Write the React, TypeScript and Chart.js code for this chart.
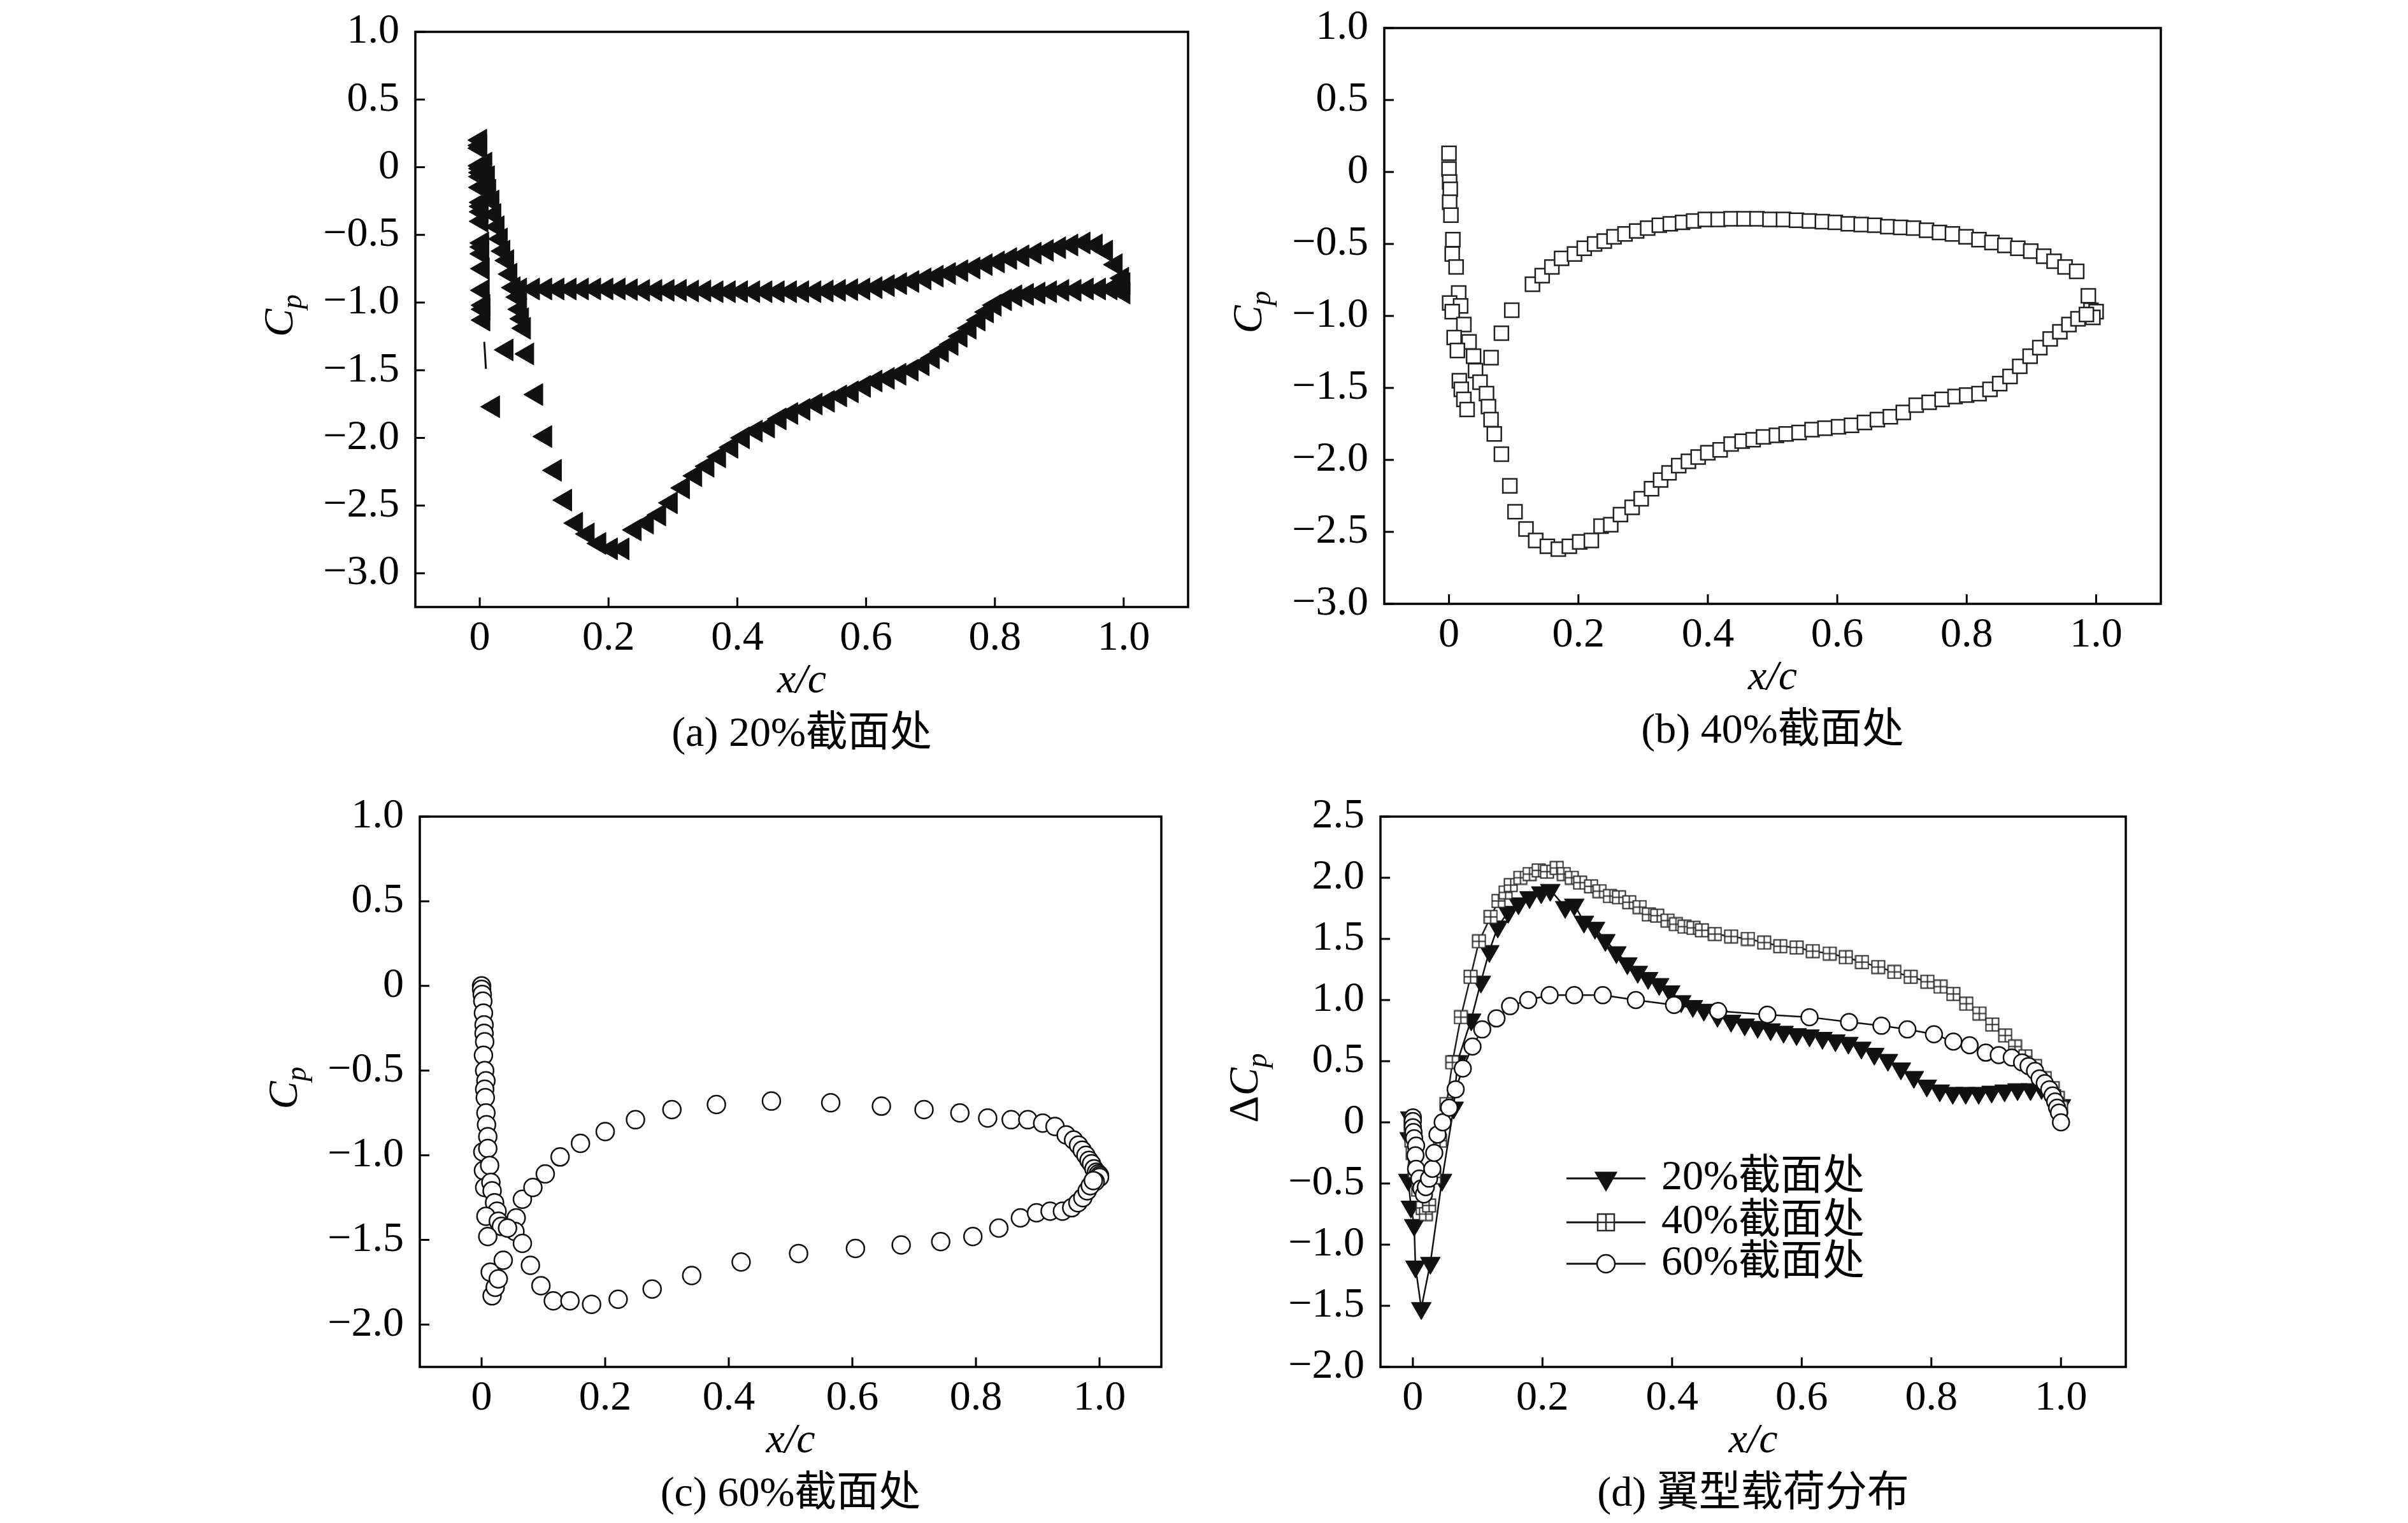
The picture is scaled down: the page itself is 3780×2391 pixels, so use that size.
import React, { useEffect, useRef } from 'react';
import { Chart, registerables } from 'chart.js';

Chart.register(...registerables);

type Pt = [number, number];

const LATIN = '"Liberation Serif"';
const MIXED = '"Liberation Serif", "Noto Sans CJK SC"';
const FS = 66;
const TICK = 15;

// ---------- tick values / labels ----------
const xTicks = [0, 0.2, 0.4, 0.6, 0.8, 1.0];
const xTickLabels = ['0', '0.2', '0.4', '0.6', '0.8', '1.0'];
const yTicksAB = [-3.0, -2.5, -2.0, -1.5, -1.0, -0.5, 0, 0.5, 1.0];
const yTickLabelsAB = ['\u22123.0', '\u22122.5', '\u22122.0', '\u22121.5', '\u22121.0', '\u22120.5', '0', '0.5', '1.0'];
const yTicksC = [-2.0, -1.5, -1.0, -0.5, 0, 0.5, 1.0];
const yTickLabelsC = ['\u22122.0', '\u22121.5', '\u22121.0', '\u22120.5', '0', '0.5', '1.0'];
const yTicksD = [-2.0, -1.5, -1.0, -0.5, 0, 0.5, 1.0, 1.5, 2.0, 2.5];
const yTickLabelsD = ['\u22122.0', '\u22121.5', '\u22121.0', '\u22120.5', '0', '0.5', '1.0', '1.5', '2.0', '2.5'];

const captions = ['(a) 20%截面处', '(b) 40%截面处', '(c) 60%截面处', '(d) 翼型载荷分布'];
const seriesLabels = ['20%截面处', '40%截面处', '60%截面处'];

// ---------- (a) 20% section Cp ----------
const cp20LeLeft: Pt[] = [
  [0.001, 0.20], [0.001, 0.16], [0.001, 0.14], [0.001, 0.01], [0.002, -0.01], [0.002, -0.04], [0.002, -0.07],
  [0.002, -0.15], [0.003, -0.26], [0.003, -0.29], [0.003, -0.33], [0.003, -0.40], [0.004, -0.56], [0.004, -0.59],
  [0.004, -0.64], [0.005, -0.75], [0.005, -0.91], [0.006, -1.02], [0.006, -1.05], [0.006, -1.13],
];
const cp20LeRight: Pt[] = [
  [0.009, 0.03], [0.013, -0.07], [0.015, -0.17], [0.020, -0.25], [0.023, -0.35], [0.028, -0.44], [0.033, -0.53],
  [0.037, -0.62], [0.043, -0.69], [0.048, -0.79], [0.053, -0.89], [0.060, -0.96], [0.063, -1.05], [0.066, -1.12],
  [0.069, -1.19],
];
const cp20Scatter: Pt[] = [
  [0.042, -1.35], [0.074, -1.38], [0.021, -1.77], [0.088, -1.68], [0.102, -1.99], [0.117, -2.24], [0.133, -2.46],
  [0.150, -2.63], [0.168, -2.71], [0.186, -2.78], [0.204, -2.82], [0.222, -2.82],
];
const cp20Lower: Pt[] = [
  [0.241, -2.68], [0.260, -2.63], [0.279, -2.57], [0.297, -2.48], [0.316, -2.37], [0.335, -2.28], [0.354, -2.21],
  [0.372, -2.14], [0.391, -2.07], [0.409, -2.00], [0.429, -1.95], [0.448, -1.92], [0.466, -1.86], [0.484, -1.82],
  [0.503, -1.79], [0.522, -1.75], [0.541, -1.73], [0.560, -1.69], [0.578, -1.66], [0.597, -1.62], [0.615, -1.58],
  [0.634, -1.56], [0.652, -1.53], [0.671, -1.50], [0.688, -1.46], [0.704, -1.41], [0.718, -1.36], [0.733, -1.31],
  [0.747, -1.25], [0.761, -1.19], [0.775, -1.13], [0.788, -1.07], [0.800, -1.02], [0.816, -0.98], [0.832, -0.95],
  [0.850, -0.94], [0.868, -0.93], [0.886, -0.92], [0.905, -0.91], [0.924, -0.91], [0.943, -0.90], [0.962, -0.90],
  [0.980, -0.90], [0.995, -0.89], [1.000, -0.86], [1.000, -0.93],
];
const cp20Upper: Pt[] = [
  [0.063, -0.90], [0.083, -0.90], [0.102, -0.90], [0.121, -0.90], [0.140, -0.90], [0.159, -0.90], [0.178, -0.90],
  [0.197, -0.90], [0.216, -0.90], [0.235, -0.905], [0.254, -0.91], [0.273, -0.91], [0.292, -0.91], [0.311, -0.91],
  [0.330, -0.915], [0.349, -0.915], [0.368, -0.92], [0.387, -0.92], [0.406, -0.92], [0.425, -0.92], [0.444, -0.92],
  [0.463, -0.92], [0.482, -0.92], [0.501, -0.92], [0.520, -0.92], [0.539, -0.915], [0.558, -0.91], [0.577, -0.905],
  [0.596, -0.90], [0.615, -0.89], [0.634, -0.875], [0.653, -0.86], [0.672, -0.845], [0.691, -0.825], [0.710, -0.805],
  [0.729, -0.785], [0.748, -0.765], [0.767, -0.745], [0.786, -0.72], [0.805, -0.70], [0.824, -0.675], [0.843, -0.655],
  [0.862, -0.635], [0.881, -0.615], [0.900, -0.595], [0.919, -0.575], [0.938, -0.56], [0.957, -0.575], [0.973, -0.62],
  [0.988, -0.72], [0.998, -0.82],
];
const cp20Stroke: Pt[] = [[0.007, -1.29], [0.0096, -1.49]];

// ---------- (b) 40% section Cp ----------
const cp40Le: Pt[] = [
  [0.000, 0.13], [0.000, 0.02], [0.001, -0.07], [0.002, -0.12], [0.001, -0.21], [0.003, -0.30], [0.006, -0.47],
  [0.005, -0.57], [0.011, -0.66], [0.015, -0.84], [0.001, -0.91], [0.018, -0.93], [0.005, -0.97], [0.023, -1.06],
  [0.008, -1.15], [0.031, -1.18], [0.013, -1.24], [0.038, -1.28], [0.065, -1.29], [0.041, -1.38], [0.016, -1.45],
  [0.048, -1.46], [0.019, -1.51], [0.023, -1.58], [0.058, -1.54], [0.028, -1.65], [0.061, -1.63], [0.065, -1.72],
  [0.070, -1.82], [0.081, -1.96], [0.094, -2.18],
];
const cp40Lower: Pt[] = [
  [0.102, -2.36], [0.119, -2.48], [0.134, -2.56], [0.152, -2.60], [0.169, -2.62], [0.186, -2.60], [0.202, -2.57],
  [0.220, -2.56], [0.235, -2.46], [0.250, -2.45], [0.265, -2.38], [0.283, -2.33], [0.297, -2.27], [0.313, -2.20],
  [0.327, -2.14], [0.340, -2.09], [0.355, -2.04], [0.370, -2.01], [0.385, -1.98], [0.400, -1.95], [0.419, -1.93],
  [0.436, -1.89], [0.453, -1.87], [0.470, -1.86], [0.486, -1.84], [0.506, -1.83], [0.521, -1.82], [0.541, -1.81],
  [0.561, -1.79], [0.581, -1.78], [0.602, -1.77], [0.622, -1.76], [0.642, -1.74], [0.662, -1.72], [0.682, -1.70],
  [0.702, -1.67], [0.722, -1.62], [0.742, -1.60], [0.762, -1.58], [0.782, -1.56], [0.800, -1.55], [0.819, -1.54],
  [0.836, -1.51], [0.851, -1.47], [0.867, -1.42], [0.882, -1.35], [0.898, -1.28], [0.913, -1.22], [0.929, -1.16],
  [0.944, -1.11], [0.958, -1.06], [0.972, -1.02], [0.985, -0.99],
];
const cp40Upper: Pt[] = [
  [0.081, -1.12], [0.097, -0.96], [0.129, -0.78], [0.144, -0.72], [0.159, -0.66], [0.174, -0.60], [0.194, -0.57],
  [0.209, -0.53], [0.225, -0.50], [0.240, -0.48], [0.255, -0.45], [0.272, -0.43], [0.290, -0.41], [0.307, -0.39],
  [0.325, -0.37], [0.342, -0.36], [0.361, -0.35], [0.378, -0.34], [0.396, -0.33], [0.416, -0.33], [0.436, -0.325],
  [0.456, -0.325], [0.476, -0.325], [0.496, -0.33], [0.517, -0.33], [0.537, -0.335], [0.557, -0.34], [0.577, -0.345],
  [0.597, -0.35], [0.617, -0.36], [0.637, -0.365], [0.658, -0.37], [0.678, -0.38], [0.698, -0.385], [0.718, -0.39],
  [0.738, -0.405], [0.758, -0.42], [0.778, -0.43], [0.799, -0.45], [0.819, -0.47], [0.839, -0.49], [0.859, -0.51],
  [0.879, -0.53], [0.899, -0.55], [0.919, -0.585], [0.935, -0.62], [0.952, -0.66], [0.970, -0.69], [0.988, -0.86],
  [0.992, -0.96], [1.000, -0.97], [0.995, -1.01],
];

// ---------- (c) 60% section Cp ----------
const cp60Le: Pt[] = [
  [0.000, 0.00], [0.000, -0.02], [0.001, -0.05], [0.002, -0.09], [0.003, -0.16], [0.004, -0.23], [0.004, -0.28],
  [0.005, -0.33], [0.003, -0.41], [0.005, -0.50], [0.007, -0.56], [0.005, -0.61], [0.006, -0.66], [0.007, -0.75],
  [0.008, -0.82], [0.010, -0.89], [0.002, -0.98], [0.010, -0.96], [0.003, -1.09], [0.013, -1.06], [0.005, -1.19],
  [0.015, -1.16], [0.017, -1.21], [0.021, -1.28], [0.025, -1.33], [0.007, -1.36], [0.027, -1.39], [0.032, -1.42],
  [0.010, -1.48], [0.042, -1.43], [0.014, -1.69], [0.017, -1.83], [0.022, -1.78], [0.027, -1.73], [0.035, -1.62],
];
const cp60Lower: Pt[] = [
  [0.054, -1.45], [0.066, -1.52], [0.079, -1.65], [0.096, -1.77], [0.116, -1.86], [0.143, -1.86], [0.178, -1.88],
  [0.221, -1.85], [0.276, -1.79], [0.340, -1.71], [0.420, -1.63], [0.513, -1.58], [0.605, -1.55], [0.679, -1.53],
  [0.743, -1.51], [0.795, -1.48], [0.837, -1.43], [0.872, -1.37], [0.898, -1.34], [0.920, -1.33], [0.940, -1.33],
  [0.955, -1.31], [0.965, -1.28], [0.973, -1.25], [0.980, -1.21], [0.985, -1.18], [0.990, -1.15],
];
const cp60Upper: Pt[] = [
  [0.056, -1.37], [0.066, -1.26], [0.083, -1.19], [0.103, -1.11], [0.127, -1.01], [0.160, -0.93], [0.200, -0.86],
  [0.249, -0.79], [0.308, -0.73], [0.380, -0.70], [0.469, -0.68], [0.565, -0.69], [0.647, -0.71], [0.716, -0.73],
  [0.774, -0.75], [0.819, -0.78], [0.857, -0.79], [0.884, -0.79], [0.908, -0.81], [0.928, -0.83], [0.946, -0.88],
  [0.958, -0.91], [0.966, -0.94], [0.972, -0.97], [0.978, -1.00], [0.983, -1.03], [0.987, -1.05], [0.991, -1.08],
  [0.995, -1.10], [0.998, -1.11], [1.000, -1.12], [1.000, -1.13], [0.993, -1.155],
];

// ---------- (d) load distribution dCp ----------
const dcp20: Pt[] = [
  [-0.004, 0.04], [-0.005, -0.13], [-0.007, -0.47], [-0.003, -0.69], [0.002, -0.84], [0.004, -1.18], [0.013, -1.52],
  [0.027, -1.15], [0.045, -0.47], [0.063, 0.12], [0.069, 0.50], [0.090, 0.84], [0.105, 1.15], [0.118, 1.40],
  [0.131, 1.60], [0.147, 1.72], [0.163, 1.79], [0.180, 1.84], [0.198, 1.88], [0.212, 1.90], [0.235, 1.76],
  [0.249, 1.78], [0.264, 1.64], [0.281, 1.59], [0.297, 1.49], [0.314, 1.39], [0.331, 1.30], [0.347, 1.23],
  [0.363, 1.18], [0.380, 1.13], [0.397, 1.07], [0.414, 0.99], [0.432, 0.95], [0.449, 0.92], [0.470, 0.87],
  [0.491, 0.83], [0.512, 0.80], [0.532, 0.78], [0.552, 0.76], [0.572, 0.74], [0.592, 0.72], [0.612, 0.71],
  [0.632, 0.69], [0.652, 0.67], [0.672, 0.65], [0.692, 0.61], [0.712, 0.56], [0.733, 0.51], [0.753, 0.44],
  [0.773, 0.37], [0.793, 0.30], [0.813, 0.26], [0.833, 0.24], [0.853, 0.24], [0.873, 0.24], [0.893, 0.25],
  [0.913, 0.26], [0.933, 0.27], [0.953, 0.27], [0.970, 0.28], [0.985, 0.22], [1.000, 0.14],
];
const dcp40: Pt[] = [
  [-0.003, 0.03], [-0.003, -0.05], [-0.002, -0.15], [0.000, -0.25], [0.003, -0.40], [0.008, -0.55], [0.015, -0.70],
  [0.020, -0.75], [0.025, -0.68], [0.033, -0.45], [0.042, -0.15], [0.052, 0.15], [0.061, 0.49], [0.074, 0.86],
  [0.089, 1.19], [0.102, 1.48], [0.120, 1.68], [0.132, 1.81], [0.143, 1.88], [0.151, 1.94], [0.166, 2.00],
  [0.180, 2.03], [0.194, 2.06], [0.207, 2.05], [0.222, 2.08], [0.233, 2.03], [0.245, 2.00], [0.258, 1.96],
  [0.275, 1.93], [0.288, 1.89], [0.304, 1.85], [0.318, 1.84], [0.334, 1.80], [0.350, 1.76], [0.364, 1.70],
  [0.377, 1.69], [0.393, 1.65], [0.406, 1.62], [0.419, 1.60], [0.433, 1.59], [0.446, 1.57], [0.466, 1.54],
  [0.491, 1.52], [0.517, 1.50], [0.542, 1.47], [0.567, 1.44], [0.592, 1.43], [0.617, 1.40], [0.643, 1.38],
  [0.668, 1.35], [0.693, 1.31], [0.718, 1.27], [0.743, 1.23], [0.768, 1.19], [0.794, 1.15], [0.814, 1.11],
  [0.834, 1.05], [0.854, 0.97], [0.874, 0.89], [0.894, 0.80], [0.914, 0.71], [0.929, 0.62], [0.945, 0.54],
  [0.960, 0.46], [0.975, 0.36], [0.987, 0.28], [0.995, 0.20], [1.000, 0.12],
];
const dcp60: Pt[] = [
  [0.000, 0.04], [0.000, 0.01], [0.000, -0.04], [0.001, -0.08], [0.002, -0.13], [0.005, -0.19], [0.004, -0.27],
  [0.005, -0.38], [0.010, -0.46], [0.013, -0.54], [0.017, -0.59], [0.020, -0.53], [0.025, -0.46], [0.030, -0.38],
  [0.033, -0.25], [0.038, -0.10], [0.046, 0.00], [0.056, 0.12], [0.066, 0.27], [0.077, 0.44], [0.092, 0.62],
  [0.107, 0.76], [0.129, 0.85], [0.150, 0.95], [0.178, 1.00], [0.211, 1.04], [0.249, 1.04], [0.293, 1.04],
  [0.344, 1.00], [0.403, 0.96], [0.471, 0.91], [0.547, 0.88], [0.612, 0.86], [0.673, 0.82], [0.723, 0.79],
  [0.763, 0.76], [0.804, 0.72], [0.834, 0.66], [0.859, 0.63], [0.884, 0.57], [0.904, 0.55], [0.924, 0.53],
  [0.940, 0.49], [0.950, 0.46], [0.960, 0.42], [0.967, 0.36], [0.975, 0.32], [0.982, 0.27], [0.987, 0.22],
  [0.991, 0.17], [0.994, 0.12], [0.997, 0.08], [1.000, 0.00],
];

// ---------- helpers ----------
const toXY = (pts: Pt[]) => pts.map(([x, y]) => ({ x, y }));

function makeBoxCross(side: number, lw: number): HTMLCanvasElement {
  const c = document.createElement('canvas');
  const s = Math.ceil(side + lw + 1);
  c.width = s;
  c.height = s;
  const g = c.getContext('2d')!;
  const o = (s - side) / 2;
  g.fillStyle = '#fff';
  g.fillRect(o, o, side, side);
  g.strokeStyle = '#2a2a2a';
  g.lineWidth = lw;
  g.strokeRect(o, o, side, side);
  g.beginPath();
  g.moveTo(s / 2, o);
  g.lineTo(s / 2, o + side);
  g.moveTo(o, s / 2);
  g.lineTo(o + side, s / 2);
  g.stroke();
  return c;
}

interface PanelCfg {
  left: number; top: number; width: number; height: number;
  area: { l: number; t: number; r: number; b: number };
  xMin: number; xMax: number; yMin: number; yMax: number;
  yTicks: number[]; yLabels: string[];
  delta: boolean;
  caption: string;
  datasets: any[];
  legend?: { rows: number[]; x1: number; x2: number; tx: number };
}

function drawYTitle(ctx: CanvasRenderingContext2D, x: number, y: number, delta: boolean) {
  ctx.save();
  ctx.translate(x, y);
  ctx.rotate(-Math.PI / 2);
  ctx.textAlign = 'left';
  ctx.textBaseline = 'alphabetic';
  const parts: { t: string; f: string; dy: number }[] = [];
  if (delta) parts.push({ t: '\u0394', f: `${FS}px ${LATIN}`, dy: 0 });
  parts.push({ t: 'C', f: `italic ${FS}px ${LATIN}`, dy: 0 });
  parts.push({ t: 'p', f: `italic 46px ${LATIN}`, dy: 14 });
  const widths = parts.map((p) => { ctx.font = p.f; return ctx.measureText(p.t).width; });
  const total = widths.reduce((s, w) => s + w, 0);
  let cur = -total / 2;
  parts.forEach((p, i) => {
    ctx.font = p.f;
    ctx.fillText(p.t, cur, 22 + p.dy);
    cur += widths[i];
  });
  ctx.restore();
}

function drawTri(ctx: CanvasRenderingContext2D, x: number, y: number, r: number) {
  ctx.beginPath();
  ctx.moveTo(x, y + r);
  ctx.lineTo(x - r * 0.866, y - r / 2);
  ctx.lineTo(x + r * 0.866, y - r / 2);
  ctx.closePath();
  ctx.fillStyle = '#111';
  ctx.fill();
}

function makeDecor(cfg: PanelCfg, legendBox: HTMLCanvasElement | null) {
  return {
    id: 'decor',
    afterDraw(chart: any) {
      const { ctx, chartArea: a } = chart;
      const xs = chart.scales.x;
      const ys = chart.scales.y;
      ctx.save();
      ctx.strokeStyle = '#000';
      ctx.lineWidth = 3.5;
      ctx.strokeRect(a.left, a.top, a.right - a.left, a.bottom - a.top);
      ctx.lineWidth = 3;
      ctx.beginPath();
      xTicks.forEach((v) => {
        const p = xs.getPixelForValue(v);
        ctx.moveTo(p, a.bottom);
        ctx.lineTo(p, a.bottom - TICK);
      });
      cfg.yTicks.forEach((v) => {
        const p = ys.getPixelForValue(v);
        ctx.moveTo(a.left, p);
        ctx.lineTo(a.left + TICK, p);
      });
      ctx.stroke();

      const cx = (a.left + a.right) / 2;
      ctx.fillStyle = '#000';
      ctx.textAlign = 'center';
      ctx.textBaseline = 'middle';
      ctx.font = `italic ${FS}px ${LATIN}`;
      ctx.fillText('x/c', cx, a.bottom + 117);
      ctx.font = `${FS}px ${MIXED}`;
      ctx.fillText(cfg.caption, cx, a.bottom + 201);
      drawYTitle(ctx, a.left - 215, (a.top + a.bottom) / 2 - 6, cfg.delta);

      if (cfg.legend && legendBox) {
        const L = cfg.legend;
        const mx = (L.x1 + L.x2) / 2;
        L.rows.forEach((ry, i) => {
          ctx.strokeStyle = '#111';
          ctx.lineWidth = 3;
          ctx.beginPath();
          ctx.moveTo(L.x1, ry);
          ctx.lineTo(L.x2, ry);
          ctx.stroke();
          if (i === 0) drawTri(ctx, mx, ry, 21);
          if (i === 1) ctx.drawImage(legendBox, mx - legendBox.width / 2, ry - legendBox.height / 2);
          if (i === 2) {
            ctx.beginPath();
            ctx.arc(mx, ry, 14, 0, Math.PI * 2);
            ctx.fillStyle = '#fff';
            ctx.fill();
            ctx.lineWidth = 2.5;
            ctx.strokeStyle = '#111';
            ctx.stroke();
          }
          ctx.fillStyle = '#000';
          ctx.textAlign = 'left';
          ctx.textBaseline = 'middle';
          ctx.font = `${FS}px ${MIXED}`;
          ctx.fillText(seriesLabels[i], L.tx, ry);
        });
      }
      ctx.restore();
    },
  };
}

function buildPanels(): { cfg: PanelCfg; legendBox: HTMLCanvasElement | null }[] {
  const tri = (pts: Pt[], label: string) => ({
    label, data: toXY(pts), showLine: false,
    pointStyle: 'triangle', pointRotation: -90, pointRadius: 20,
    pointBackgroundColor: '#111', pointBorderColor: '#111', pointBorderWidth: 1,
    backgroundColor: '#111', borderColor: '#111',
  });
  const sq = (pts: Pt[], label: string) => ({
    label, data: toXY(pts), showLine: false,
    pointStyle: 'rect', pointRadius: 15.5,
    pointBackgroundColor: '#fff', pointBorderColor: '#222', pointBorderWidth: 2.5,
    backgroundColor: '#fff', borderColor: '#222',
  });
  const circ = (pts: Pt[], label: string) => ({
    label, data: toXY(pts), showLine: false,
    pointStyle: 'circle', pointRadius: 14,
    pointBackgroundColor: '#fff', pointBorderColor: '#111', pointBorderWidth: 2.5,
    backgroundColor: '#fff', borderColor: '#111',
  });
  const plotBox = makeBoxCross(20, 2);
  const legendBox = makeBoxCross(26, 2.5);

  const A: PanelCfg = {
    left: 0, top: 0, width: 1900, height: 1220,
    area: { l: 652, t: 50, r: 1865, b: 953 },
    xMin: -0.1, xMax: 1.1, yMin: -3.25, yMax: 1.0,
    yTicks: yTicksAB, yLabels: yTickLabelsAB, delta: false, caption: captions[0],
    datasets: [
      { label: 'stroke', data: toXY(cp20Stroke), showLine: true, pointRadius: 0, borderColor: '#111', borderWidth: 3 },
      tri(cp20LeLeft, 'le-left'), tri(cp20LeRight, 'le-right'), tri(cp20Scatter, 'scatter'),
      tri(cp20Lower, 'lower'), tri(cp20Upper, 'upper'),
    ],
  };
  const B: PanelCfg = {
    left: 1900, top: 0, width: 1880, height: 1220,
    area: { l: 273, t: 44, r: 1492, b: 948 },
    xMin: -0.1, xMax: 1.1, yMin: -3.0, yMax: 1.0,
    yTicks: yTicksAB, yLabels: yTickLabelsAB, delta: false, caption: captions[1],
    datasets: [sq(cp40Le, 'le'), sq(cp40Lower, 'lower'), sq(cp40Upper, 'upper')],
  };
  const C: PanelCfg = {
    left: 0, top: 1220, width: 1900, height: 1171,
    area: { l: 659, t: 62, r: 1823, b: 926 },
    xMin: -0.1, xMax: 1.1, yMin: -2.25, yMax: 1.0,
    yTicks: yTicksC, yLabels: yTickLabelsC, delta: false, caption: captions[2],
    datasets: [circ(cp60Le, 'le'), circ(cp60Lower, 'lower'), circ(cp60Upper, 'upper')],
  };
  const D: PanelCfg = {
    left: 1900, top: 1220, width: 1880, height: 1171,
    area: { l: 267, t: 62, r: 1437, b: 926 },
    xMin: -0.05, xMax: 1.1, yMin: -2.0, yMax: 2.5,
    yTicks: yTicksD, yLabels: yTickLabelsD, delta: true, caption: captions[3],
    legend: { rows: [630, 699, 764], x1: 559, x2: 683, tx: 708 },
    datasets: [
      {
        label: seriesLabels[0], data: toXY(dcp20), showLine: true, order: 3,
        borderColor: '#111', borderWidth: 2.5, backgroundColor: '#111',
        pointStyle: 'triangle', pointRotation: 180, pointRadius: 18,
        pointBackgroundColor: '#111', pointBorderColor: '#111', pointBorderWidth: 1,
      },
      {
        label: seriesLabels[1], data: toXY(dcp40), showLine: true, order: 2,
        borderColor: '#222', borderWidth: 2.5, backgroundColor: '#fff',
        pointStyle: plotBox, pointRadius: 10,
      },
      {
        label: seriesLabels[2], data: toXY(dcp60), showLine: true, order: 1,
        borderColor: '#111', borderWidth: 2.5, backgroundColor: '#fff',
        pointStyle: 'circle', pointRadius: 13,
        pointBackgroundColor: '#fff', pointBorderColor: '#111', pointBorderWidth: 2.5,
      },
    ],
  };
  return [
    { cfg: A, legendBox: null },
    { cfg: B, legendBox: null },
    { cfg: C, legendBox: null },
    { cfg: D, legendBox },
  ];
}

const Y_AXIS_W = 150;
const X_AXIS_H = 100;

function createChart(canvas: HTMLCanvasElement, cfg: PanelCfg, legendBox: HTMLCanvasElement | null) {
  const tickFont = { family: LATIN, size: FS };
  return new Chart(canvas, {
    type: 'scatter',
    data: { datasets: cfg.datasets },
    options: {
      animation: false,
      responsive: false,
      devicePixelRatio: 1,
      events: [],
      layout: {
        padding: {
          left: cfg.area.l - Y_AXIS_W,
          right: cfg.width - cfg.area.r,
          top: cfg.area.t,
          bottom: cfg.height - cfg.area.b - X_AXIS_H,
        },
      },
      plugins: { legend: { display: false }, tooltip: { enabled: false }, title: { display: false } },
      scales: {
        x: {
          type: 'linear',
          min: cfg.xMin,
          max: cfg.xMax,
          afterFit: (s: any) => {
            s.height = X_AXIS_H;
            s.paddingLeft = 0; s.paddingRight = 0; s.paddingTop = 0; s.paddingBottom = 0;
          },
          afterBuildTicks: (s: any) => { s.ticks = xTicks.map((v) => ({ value: v })); },
          ticks: {
            autoSkip: false, maxRotation: 0, minRotation: 0, padding: 10, color: '#000', font: tickFont,
            callback: (_v: any, i: number) => xTickLabels[i],
          },
          grid: { display: false, drawTicks: false },
          border: { display: false },
        },
        y: {
          type: 'linear',
          min: cfg.yMin,
          max: cfg.yMax,
          afterFit: (s: any) => {
            s.width = Y_AXIS_W;
            s.paddingLeft = 0; s.paddingRight = 0; s.paddingTop = 0; s.paddingBottom = 0;
          },
          afterBuildTicks: (s: any) => { s.ticks = cfg.yTicks.map((v) => ({ value: v })); },
          ticks: {
            autoSkip: false, padding: 25, color: '#000', font: tickFont,
            callback: (_v: any, i: number) => cfg.yLabels[i],
          },
          grid: { display: false, drawTicks: false },
          border: { display: false },
        },
      },
    } as any,
    plugins: [makeDecor(cfg, legendBox) as any],
  });
}

const PANEL_GEOM = [
  { left: 0, top: 0, width: 1900, height: 1220 },
  { left: 1900, top: 0, width: 1880, height: 1220 },
  { left: 0, top: 1220, width: 1900, height: 1171 },
  { left: 1900, top: 1220, width: 1880, height: 1171 },
];

export default function App() {
  const refs = [useRef<HTMLCanvasElement>(null), useRef<HTMLCanvasElement>(null), useRef<HTMLCanvasElement>(null), useRef<HTMLCanvasElement>(null)];
  useEffect(() => {
    const panels = buildPanels();
    const charts = panels.map((p, i) => createChart(refs[i].current!, p.cfg, p.legendBox));
    return () => charts.forEach((c) => c.destroy());
  }, []);
  return (
    <div style={{ position: 'fixed', left: 0, top: 0, width: 3780, height: 2391, background: '#fff', overflow: 'hidden' }}>
      {PANEL_GEOM.map((g, i) => (
        <canvas
          key={i}
          ref={refs[i]}
          width={g.width}
          height={g.height}
          style={{ position: 'absolute', left: g.left, top: g.top, width: g.width, height: g.height }}
        />
      ))}
    </div>
  );
}
